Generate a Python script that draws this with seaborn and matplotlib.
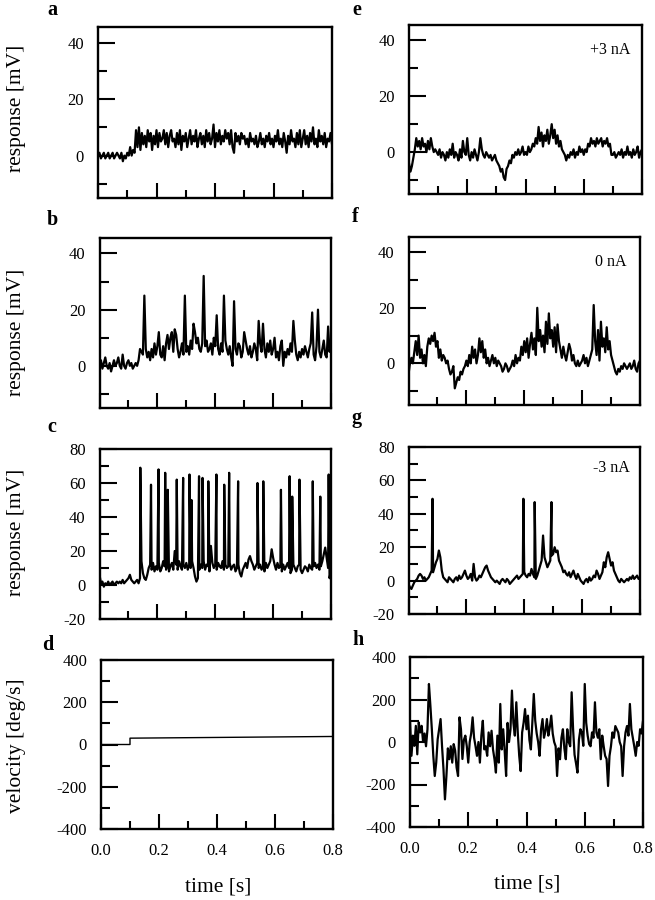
import numpy as np
import pandas as pd
import matplotlib
matplotlib.use("Agg")
import matplotlib.pyplot as plt
import seaborn as sns

# ---------------- data (5 ms sampling) ----------------
DT = 0.005

resp_a = [0, 1, -1, 0, 1, -1, 0, 1, -1, 0, 1, -1, 0, 1, 0, -1, 1, -2, 0, -1,
          1, 0, 3, 0, 2, 1, 9, 3, 10, 2, 8, 4, 7, 3, 9, 5, 8, 2, 7, 4,
          9, 3, 8, 5, 6, 9, 4, 8, 3, 7, 9, 5, 6, 3, 8, 4, 9, 2, 7, 5,
          8, 3, 6, 9, 4, 7, 5, 9, 3, 6, 8, 4, 7, 3, 9, 5, 8, 4, 6, 11,
          3, 8, 5, 9, 4, 7, 5, 9, 6, 8, 4, 9, 3, 1, 8, 5, 7, 4, 8, 6,
          7, 4, 6, 3, 8, 5, 6, 4, 7, 3, 5, 8, 4, 6, 3, 7, 5, 8, 4, 6,
          3, 7, 5, 9, 4, 6, 3, 8, 5, 1, 7, 4, 9, 5, 6, 3, 8, 4, 9, 3,
          6, 9, 4, 7, 3, 8, 5, 10, 4, 6, 3, 9, 5, 7, 4, 8, 3, 6, 5, 8,
          4]

resp_b = [0, 2, -1, 1, 3, 0, -1, 1, -2, 0, 2, 0, 1, 3, 0, -1, 4, 0, -1, 1,
          2, 0, 1, -1, 0, 1, 0, 2, 6, 5, 4, 25, 6, 3, 5, 2, 6, 3, 8, 4,
          7, 12, 4, 3, 7, 2, 8, 11, 6, 10, 12, 5, 13, 11, 6, 3, 5, 8, 4, 25,
          5, 7, 4, 9, 6, 15, 12, 8, 10, 6, 5, 8, 32, 7, 9, 5, 6, 8, 4, 10,
          7, 18, 6, 4, 8, 5, 25, 9, 6, 4, 7, 3, 0, 23, 6, 4, 8, 7, 3, 5,
          12, 9, 6, 4, 7, 3, 5, 8, 6, 2, 16, 8, 5, 15, 6, 3, 8, 5, 9, 4,
          6, 10, 3, 5, 2, 7, 9, 0, 5, 3, 6, 4, 8, 5, 16, 9, 4, 2, 5, 3,
          6, 4, 7, 5, 3, 6, 8, 19, 4, 2, 7, 20, 5, 3, 6, 9, 4, 3, 14, 5,
          8]

resp_c_base = [6, 1, 2, -1, 1, 0, 2, 0, 1, 2, 0, 1, 2, 1, 2, 1, 3, 1, 2, 3,
               4, 6, 3, 2, 1, 2, 3, 1, 4, 14, 7, 4, 3, 6, 10, 12, 9, 13, 8, 11,
               9, 13, 8, 10, 14, 11, 9, 12, 8, 11, 13, 9, 20, 12, 9, 14, 11, 9, 12, 10,
               13, 9, 12, 10, 14, 10, 5, 2, 4, 9, 12, 10, 14, 9, 12, 11, 8, 23, 13, 10,
               12, 9, 13, 11, 10, 14, 9, 12, 10, 11, 13, 9, 11, 12, 8, 10, 12, 7, 5, 9,
               11, 13, 10, 15, 17, 14, 12, 9, 11, 13, 10, 12, 9, 11, 8, 13, 10, 12, 14, 21,
               16, 12, 9, 13, 10, 11, 8, 12, 9, 11, 13, 10, 7, 9, 12, 10, 8, 11, 12, 9,
               7, 9, 11, 10, 8, 12, 10, 9, 11, 13, 10, 12, 9, 11, 14, 18, 22, 16, 10, 4,
               9]
spike_c_t = [0.141, 0.178, 0.204, 0.227, 0.236, 0.267, 0.289, 0.311, 0.318, 0.344,
             0.356, 0.376, 0.404, 0.431, 0.448, 0.479, 0.546, 0.566, 0.627, 0.657,
             0.666, 0.691, 0.737, 0.763, 0.792]
spike_c_v = [69, 59, 68, 66, 56, 62, 63, 65, 50, 64,
             63, 61, 65, 59, 66, 61, 60, 61, 56, 64,
             52, 62, 61, 52, 65]

vel_d_t = [0.0, 0.1, 0.1, 0.8]
vel_d_v = [0, 0, 30, 38]

resp_e = [-4, -7, -5, -2, 1, 5, 2, 4, 1, 5, 2, 3, 0, 4, 1, 5, 2, 0, 1, 0,
          -1, 1, -2, 0, -1, -3, 0, -2, 1, -1, 3, -2, 0, -1, -3, 1, -2, 4, 0, -1,
          5, -1, -3, 0, -2, 1, -1, -3, 0, 5, 1, -1, -2, 0, -1, -2, -1, -3, -2, -1,
          -3, -4, -5, -7, -6, -9, -10, -6, -5, -3, -4, -1, -2, 0, -1, 1, -1, 0, 2, -1,
          0, -1, 2, 0, 1, 3, 2, 5, 3, 9, 4, 7, 2, 6, 4, 8, 3, 6, 10, 5,
          8, 3, 6, 2, 4, 1, 0, -1, -3, -1, -2, 0, -1, 1, -2, 0, -1, 2, 0, 1,
          -1, 1, 0, 3, 2, 5, 3, 4, 2, 5, 3, 4, 5, 2, 4, 3, 5, 2, 3, -1,
          -1, 0, -2, -1, 0, -1, 1, -2, 0, -1, 2, -1, 0, -2, 1, -1, 0, 2, -2, 0,
          1]

resp_f = [-4, 0, 2, 0, 4, 8, 3, 10, 2, 5, 0, 3, -1, 6, 9, 7, 10, 8, 11, 6,
          8, 2, 5, 1, 3, 2, 0, 1, -2, -4, -3, -1, -9, -7, -5, -6, -3, -4, -2, -1,
          1, -1, 3, 0, 6, 2, 5, 0, 3, 9, 4, 8, 2, 5, 0, 2, -1, 1, 3, 0,
          2, -1, 1, 0, -1, -3, -2, 0, -1, -3, -2, -1, 1, -1, 3, 0, 2, 1, 6, 3,
          8, 4, 9, 2, 7, 11, 5, 9, 3, 20, 8, 12, 6, 10, 4, 15, 7, 18, 9, 12,
          6, 13, 4, 14, 8, 5, 2, 6, 3, 1, 4, 7, 5, 1, 3, 0, -1, 1, -1, 0,
          1, 3, 0, 2, -1, 1, 3, 5, 21, 8, 3, 12, 1, 15, 6, 9, 4, 13, 5, 8,
          3, 1, -1, -3, -4, -2, -3, -1, -2, 0, -1, -2, -1, 0, -2, -1, 1, -2, -3, 0,
          1]

resp_g_base = [-2, -4, -5, -3, -1, 0, 1, 3, 4, 3, 1, 2, 0, 1, 2, 4, 6, 5, 8, 11,
               13, 18, 14, 6, 2, 1, 0, -1, 2, 1, 0, -1, 1, 2, 0, 3, 1, 2, 4, 6,
               3, 1, 2, 4, 0, 10, 2, 0, 1, 3, 2, 4, 6, 8, 9, 6, 4, 2, 1, 0,
               -1, 0, -1, -2, 0, 1, 0, -1, 1, 0, -2, -1, 0, 1, 2, 3, 1, 2, 3, 4,
               5, 3, 2, 4, 3, 7, 4, 2, 1, 3, 6, 9, 12, 27, 14, 11, 8, 10, 12, 15,
               16, 20, 17, 18, 12, 10, 8, 5, 6, 4, 3, 5, 2, 4, 6, 3, 1, 4, 2, 0,
               -1, -2, 0, 1, -1, 2, 0, 1, 3, 2, 6, 4, 1, 3, 5, 11, 8, 14, 17, 13,
               9, 11, 6, 4, 2, 0, -1, 1, 0, -1, 0, 1, 0, 2, 1, 3, 1, 2, 3, 1,
               2]
spike_g_t = [0.083, 0.397, 0.436, 0.494]
spike_g_v = [49, 49, 47, 47]

vel_h = [100, -65, 30, -18, 76, -58, 92, 45, 76, 0, 40, -20, 60, 273, 171, 60, -65, -160, -97, 13,
         60, 108, -20, -129, -270, -160, -30, -81, -20, -97, -10, -40, -120, -160, 116, 60, -80, 10, 30, -20,
         -97, 0, 40, 116, 20, -20, -65, 0, -97, 30, 100, -35, -20, -65, 45, -20, 53, -35, -80, -144,
         30, -97, 179, -35, 60, -40, -160, 90, 0, 60, 242, 90, 30, 187, 45, -65, -137, 45, 90, 155,
         60, 124, 10, -35, 90, 226, 100, 40, 0, -65, 60, 108, 20, 50, 108, 30, 70, 124, 40, 0,
         -20, -160, -30, -81, 20, 60, -30, -81, 60, 0, -20, 234, 60, -60, -100, -144, 10, 60, 45, -18,
         273, 90, 30, -10, -20, 45, 20, 187, 45, 20, 60, -81, 30, -20, -65, -80, -207, -65, -20, 45,
         20, 75, 60, 45, 0, -20, -160, -20, 45, 75, 30, 179, 60, 20, -20, -65, 0, -18, 60, 40,
         100]

x_ticks = [0.0, 0.2, 0.4, 0.6, 0.8]
x_ticklabels = ["0.0", "0.2", "0.4", "0.6", "0.8"]
x_minor = [0.1, 0.3, 0.5, 0.7]
resp_ticks = [0, 20, 40]
resp_ticklabels = ["0", "20", "40"]
resp_minor = [-10, 10, 30]
spk_ticks = [-20, 0, 20, 40, 60, 80]
spk_ticklabels = ["-20", "0", "20", "40", "60", "80"]
spk_minor = [-10, 10, 30, 50, 70]
vel_ticks = [-400, -200, 0, 200, 400]
vel_ticklabels = ["-400", "-200", "0", "200", "400"]
vel_minor = [-300, -100, 100, 300]

# ---------------- style ----------------
sns.set_style("ticks")
plt.rcParams["font.family"] = ["Liberation Serif", "DejaVu Serif"]
plt.rcParams["axes.unicode_minus"] = False
plt.rcParams["axes.linewidth"] = 1.7
for k in ["text.color", "axes.labelcolor", "xtick.color", "ytick.color",
          "axes.edgecolor", "xtick.labelcolor", "ytick.labelcolor"]:
    plt.rcParams[k] = "black"

W, H = 655, 900
fig = plt.figure(figsize=(W / 100, H / 100), dpi=100)


def grid_df(vals):
    t = np.arange(len(vals)) * DT
    return pd.DataFrame({"t": t, "v": vals})


def with_spikes(base, st, sv):
    df = pd.concat([grid_df(base), pd.DataFrame({"t": st, "v": sv})])
    return df.sort_values("t").reset_index(drop=True)


def make_ax(l, t, r, b):
    return fig.add_axes([l / W, 1 - b / H, (r - l) / W, (b - t) / H])


def style(ax, ylim, yt, ytl, ymin, bottom_labels):
    ax.set_xlim(0, 0.8)
    ax.set_ylim(*ylim)
    ax.set_xticks(x_ticks)
    ax.set_xticks(x_minor, minor=True)
    ax.set_yticks(yt)
    ax.set_yticklabels(ytl)
    ax.set_yticks(ymin, minor=True)
    if bottom_labels:
        ax.set_xticklabels(x_ticklabels)
    ax.tick_params(axis="both", which="both", direction="in", top=False, right=False,
                   width=1.5, labelsize=12, pad=10, colors="black",
                   labelcolor="black")
    ax.tick_params(axis="x", labelbottom=bottom_labels)
    ax.tick_params(axis="y", which="major", length=12)
    ax.tick_params(axis="y", which="minor", length=6.5)
    ax.tick_params(axis="x", which="major", length=11)
    ax.tick_params(axis="x", which="minor", length=6)
    for s in ax.spines.values():
        s.set_visible(True)
        s.set_color("black")
        s.set_linewidth(1.7)
    ax.set_xlabel("")
    ax.set_ylabel("")


boxes = {
    "a": (98, 27, 332, 198), "b": (99.5, 238, 331, 408),
    "c": (99.5, 449, 331, 619), "d": (101, 660, 333, 829),
    "e": (409, 25, 642, 194), "f": (408.5, 237, 640, 405),
    "g": (408.5, 447, 640, 614), "h": (410, 657, 643, 827),
}

traces = {
    "a": grid_df(resp_a), "b": grid_df(resp_b),
    "c": with_spikes(resp_c_base, spike_c_t, spike_c_v),
    "d": pd.DataFrame({"t": vel_d_t, "v": vel_d_v}),
    "e": grid_df(resp_e), "f": grid_df(resp_f),
    "g": with_spikes(resp_g_base, spike_g_t, spike_g_v),
    "h": grid_df(vel_h),
}

axes = {}
for key, box in boxes.items():
    ax = make_ax(*box)
    axes[key] = ax
    lw = 1.0 if key == "d" else 1.6
    sns.lineplot(data=traces[key], x="t", y="v", ax=ax, color="black",
                 linewidth=lw, estimator=None, sort=False)
    if key in "abef":
        style(ax, (-15, 45.5), resp_ticks, resp_ticklabels, resp_minor, False)
    elif key in "cg":
        style(ax, (-20, 80), spk_ticks, spk_ticklabels, spk_minor, False)
    else:
        style(ax, (-400, 400), vel_ticks, vel_ticklabels, vel_minor, True)

# y labels (left column)
ylab_centers = {"a": 108, "b": 332, "c": 532, "d": 746}
for key, yc in ylab_centers.items():
    l, t, r, b = boxes[key]
    ax = axes[key]
    txt = "velocity [deg/s]" if key == "d" else "response [mV]"
    ax.set_ylabel(txt, fontsize=15.5, va="center", color="black")
    ax.yaxis.set_label_coords((16.5 - l) / (r - l), (b - yc) / (b - t))

# x labels
for key, (xc, yc) in {"d": (218, 887), "h": (527, 884)}.items():
    l, t, r, b = boxes[key]
    ax = axes[key]
    ax.set_xlabel("time [s]", fontsize=15.5, va="center", color="black")
    ax.xaxis.set_label_coords((xc - l) / (r - l), (b - yc) / (b - t))

# current annotations
axes["e"].text(0.76, 35, "+3 nA", ha="right", va="baseline", fontsize=11.5, color="black")
axes["f"].text(0.755, 35, "0 nA", ha="right", va="baseline", fontsize=11.5, color="black")
axes["g"].text(0.766, 65, "-3 nA", ha="right", va="baseline", fontsize=11.5, color="black")

# panel letters
letters = {"a": (47, 15), "b": (47, 225), "c": (47, 432), "d": (42, 650),
           "e": (352, 15), "f": (352, 222), "g": (352, 423), "h": (352, 645)}
for k, (x, y) in letters.items():
    fig.text(x / W, 1 - y / H, k, ha="left", va="baseline",
             fontsize=14.5, fontweight="bold", color="black")

fig.savefig("out.png", dpi=100)
